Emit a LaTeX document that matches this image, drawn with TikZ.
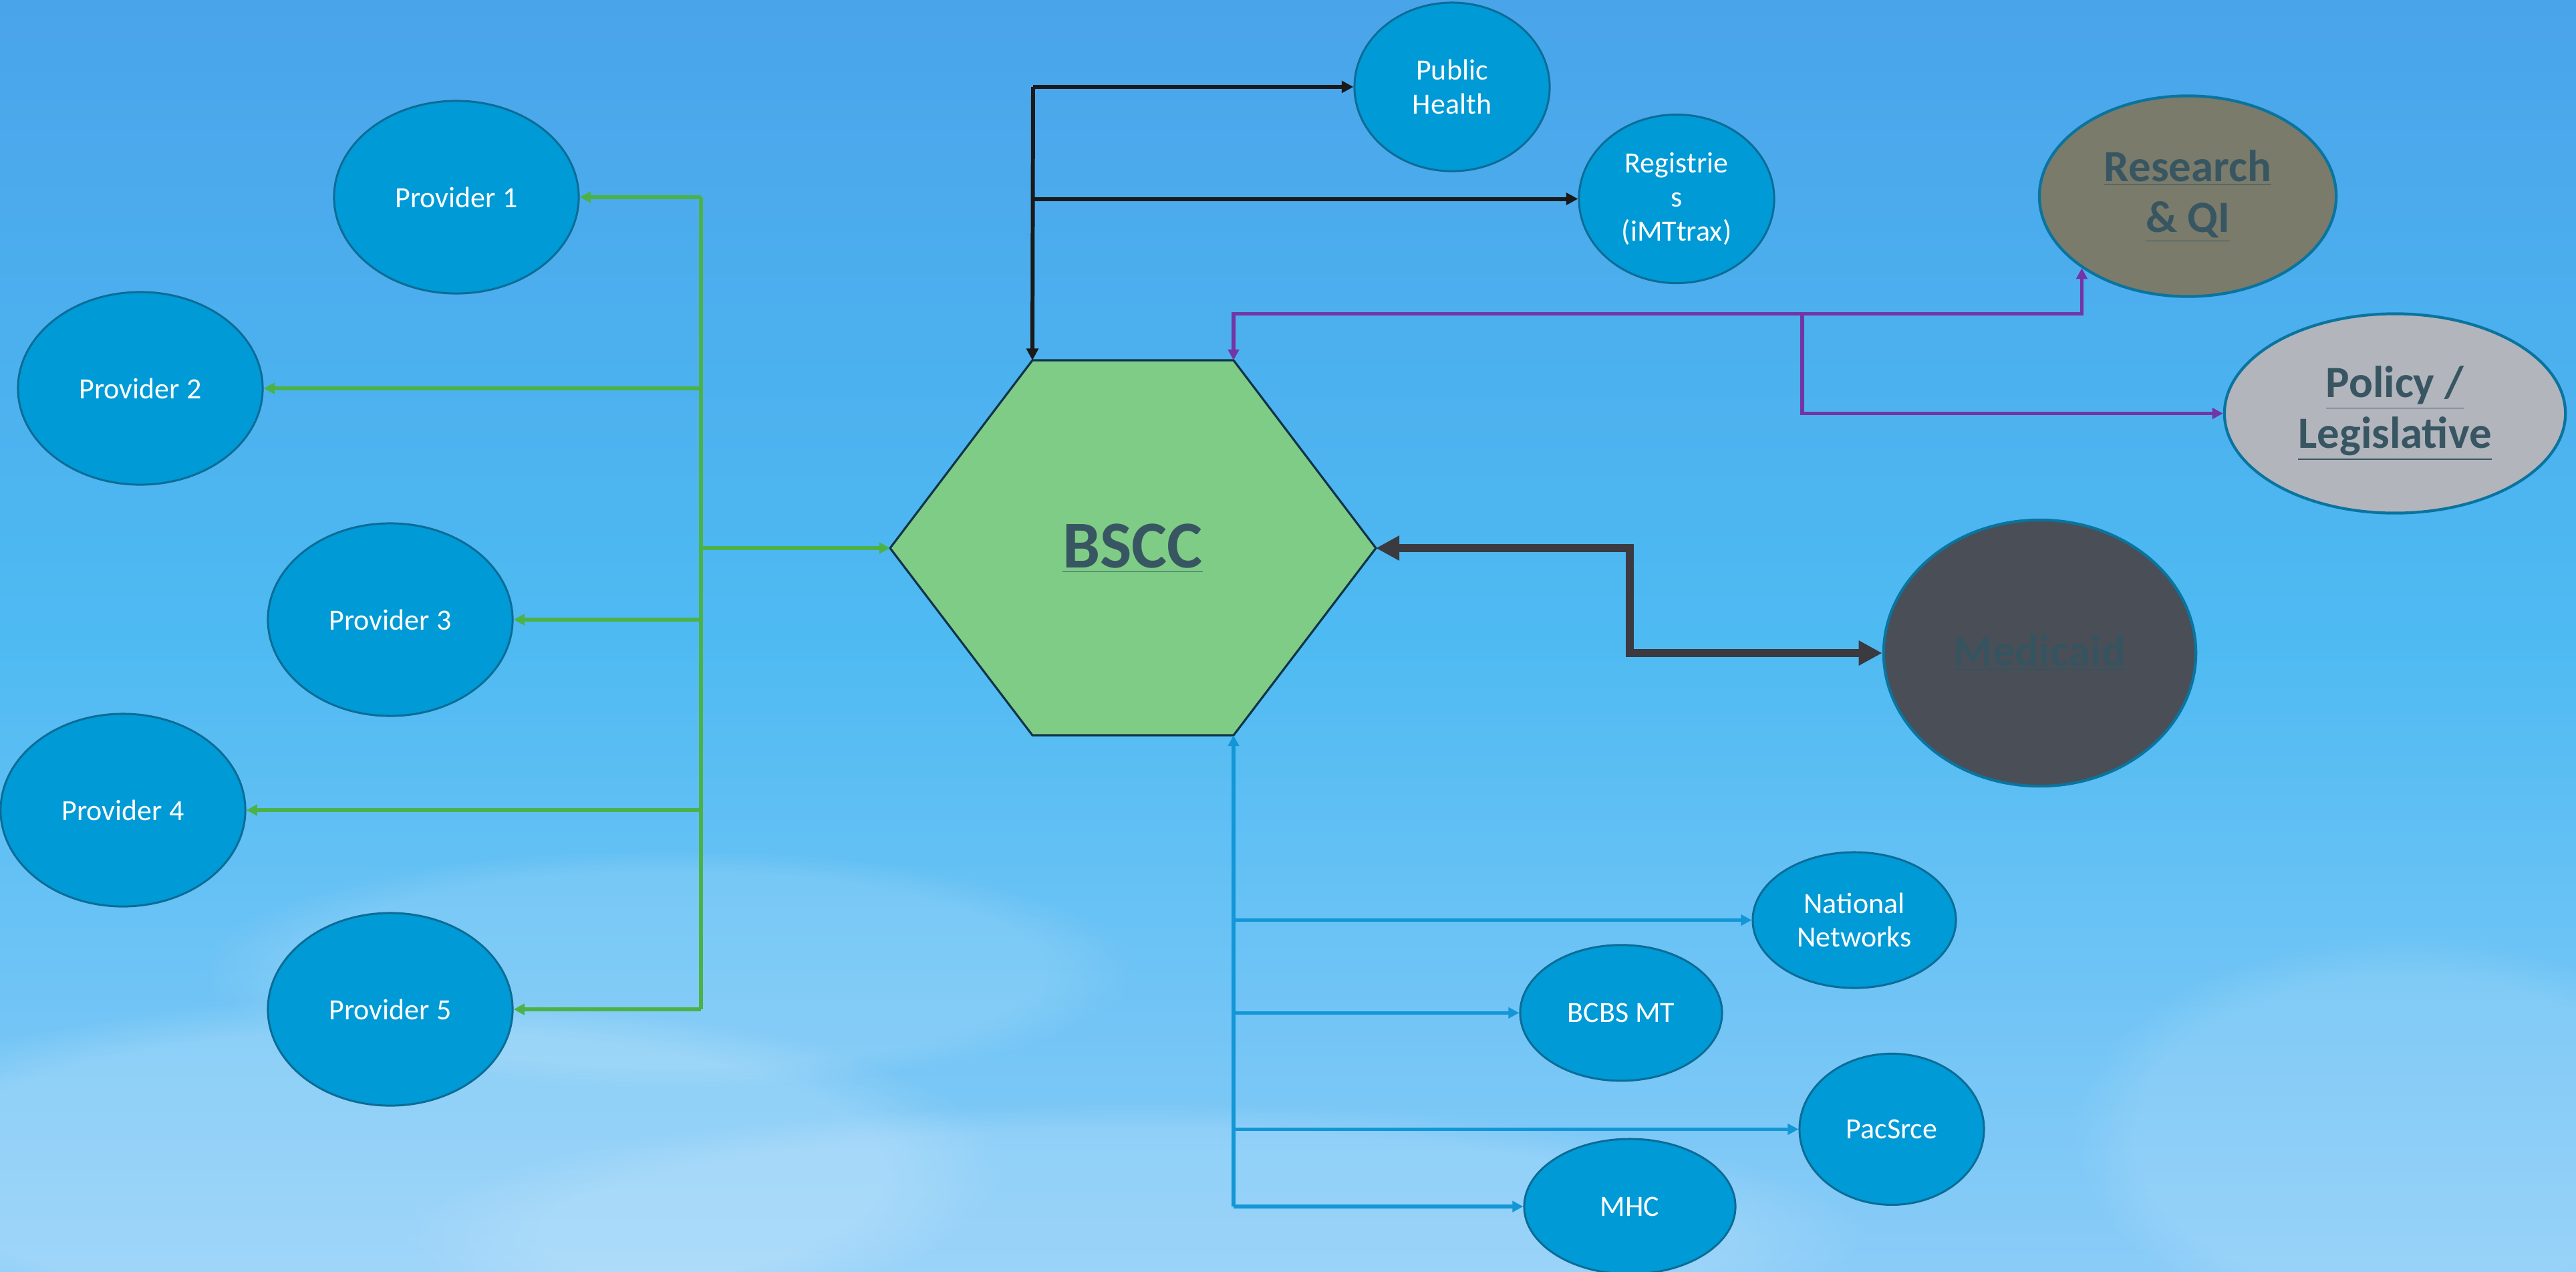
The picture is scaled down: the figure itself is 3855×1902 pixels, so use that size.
\documentclass[tikz,border=0pt]{standalone}
\usepackage{fontspec}
\setmainfont{Carlito}
\usetikzlibrary{arrows.meta,shapes.geometric,fadings}
\definecolor{skytop}{RGB}{74,164,234}
\definecolor{skymid}{RGB}{78,186,242}
\definecolor{skybot}{RGB}{138,204,248}
\definecolor{nodefill}{RGB}{0,154,214}
\definecolor{nodeedge}{RGB}{12,108,150}
\definecolor{bigedge}{RGB}{10,116,158}
\definecolor{hexfill}{RGB}{127,204,134}
\definecolor{hexedge}{RGB}{16,52,72}
\definecolor{labeldark}{RGB}{56,86,98}
\definecolor{resfill}{RGB}{122,123,106}
\definecolor{polfill}{RGB}{179,181,189}
\definecolor{medfill}{RGB}{74,78,87}
\definecolor{medtext}{RGB}{54,84,96}
\definecolor{gline}{RGB}{76,178,72}
\definecolor{bline}{RGB}{18,150,214}
\definecolor{pline}{RGB}{115,52,165}
\definecolor{kline}{RGB}{26,26,26}
\definecolor{dline}{RGB}{58,58,64}
\begin{document}
\begin{tikzpicture}[x=0.01cm,y=-0.01cm,
  small/.style={ellipse,draw=nodeedge,line width=0.85pt,fill=nodefill,inner sep=0pt,
    text=white,align=center,font=\fontsize{12.5}{14.4}\selectfont},
  big/.style={ellipse,draw=bigedge,line width=1.2pt,inner sep=0pt,
    text=labeldark,align=center,font=\fontsize{19}{21.6}\selectfont\bfseries},
  garrow/.style={draw=gline,line width=1.85pt,-{Triangle[length=4.6pt,width=4.6pt]}},
  gplain/.style={draw=gline,line width=1.85pt},
  karrow/.style={draw=kline,line width=1.7pt,-{Triangle[length=5pt,width=5pt]}},
  parrow/.style={draw=pline,line width=1.5pt,-{Triangle[length=4.6pt,width=4.6pt]}},
  pboth/.style={draw=pline,line width=1.5pt,{Triangle[length=4.6pt,width=4.6pt]}-{Triangle[length=4.6pt,width=4.6pt]}},
  barrow/.style={draw=bline,line width=1.5pt,-{Triangle[length=4.6pt,width=4.6pt]}},
  darrow/.style={draw=dline,line width=3.5pt,{Triangle[length=10pt,width=10pt]}-{Triangle[length=10pt,width=10pt]}},
  cloud/.style={fill=white,path fading=circle with fuzzy edge 20 percent}
]
\useasboundingbox (0,0) rectangle (3855,1902);
% background sky
\shade[top color=skytop, bottom color=skybot, middle color=skymid] (0,0) rectangle (3855,1902);
\fill[cloud,fill opacity=0.18] (600,1750) ellipse [x radius=900, y radius=260];
\fill[cloud,fill opacity=0.15] (1700,1850) ellipse [x radius=1100, y radius=200];
\fill[cloud,fill opacity=0.12] (1000,1450) ellipse [x radius=700, y radius=180];
\fill[cloud,fill opacity=0.12] (3600,1700) ellipse [x radius=500, y radius=300];

% hexagon BSCC
\coordinate (hTL) at (1545,539);
\coordinate (hTR) at (1846,539);
\coordinate (hR) at (2059,820);
\coordinate (hBR) at (1846,1100);
\coordinate (hBL) at (1545,1100);
\coordinate (hL) at (1332,820);
\draw[fill=hexfill,draw=hexedge,line width=0.9pt,line join=miter] (hTL)--(hTR)--(hR)--(hBR)--(hBL)--(hL)--cycle;
\node[text=labeldark,font=\fontsize{28.5}{30}\selectfont\bfseries] (bscc) at (1695,820) {\underline{BSCC}};

% providers
\node[small,minimum width=3.66cm,minimum height=2.88cm] (p1) at (683,295) {Provider 1};
\node[small,minimum width=3.66cm,minimum height=2.88cm] (p2) at (210,581) {Provider 2};
\node[small,minimum width=3.66cm,minimum height=2.88cm] (p3) at (584,927) {Provider 3};
\node[small,minimum width=3.66cm,minimum height=2.88cm] (p4) at (184,1212) {Provider 4};
\node[small,minimum width=3.66cm,minimum height=2.88cm] (p5) at (584,1510) {Provider 5};

% top nodes
\node[small,minimum width=2.92cm,minimum height=2.52cm] (ph) at (2173,130) {Public\\Health};
\node[small,minimum width=2.92cm,minimum height=2.52cm] (reg) at (2509,297.5) {Registrie\\s\\(iMTtrax)};

% right nodes
\node[big,fill=resfill,minimum width=4.44cm,minimum height=3.0cm] (res) at (3274,293.5) {\underline{Research}\\\underline{\&~QI}};
\node[big,fill=polfill,minimum width=5.10cm,minimum height=2.98cm] (pol) at (3584,618.5) {\underline{Policy /}\\\underline{Legislative}};
\node[big,fill=medfill,text=medtext,minimum width=4.67cm,minimum height=3.98cm] (med) at (3052.5,977) {\underline{Medicaid}};

% bottom nodes
\node[small,minimum width=3.04cm,minimum height=2.03cm] (nn) at (2775,1376.5) {National\\Networks};
\node[small,minimum width=3.02cm,minimum height=2.03cm] (bcbs) at (2426,1515.3) {BCBS MT};
\node[small,minimum width=2.76cm,minimum height=2.26cm] (pac) at (2831,1689.4) {PacSrce};
\node[small,minimum width=3.16cm,minimum height=2.02cm] (mhc) at (2439,1805) {MHC};

% green bus
\coordinate (gt) at (1049,0);
\draw[gplain] (gt |- p1.east) -- (gt |- p5.east);
\foreach \p in {p1,p2,p3,p4,p5} {\draw[garrow] (gt |- \p.east) -- (\p.east);}
\draw[garrow] (gt |- hL) -- (hL);

% black bus
\coordinate (kt) at (1546,0);
\draw[karrow] (kt |- ph.west) -- (hTL);
\draw[karrow] (kt |- ph.west) -- (ph.west);
\draw[karrow] (kt |- reg.west) -- (reg.west);

% purple
\coordinate (pj) at (0,469.5);
\coordinate (pb) at (2697,469.5);
\draw[pboth] (hTR) |- (res.south west |- pj) -- (res.south west);
\draw[parrow] (pb) |- (pol.west);

% dark double arrow
\coordinate (dk) at (2439,0);
\draw[darrow,line join=miter] (hR) -- (dk |- hR) -- (dk |- med.west) -- (med.west);

% blue bus
\coordinate (bt) at (1846,0);
\draw[barrow] (bt |- mhc.west) -- (hBR);
\foreach \q in {nn,bcbs,pac,mhc} {\draw[barrow] (bt |- \q.west) -- (\q.west);}
\end{tikzpicture}
\end{document}
